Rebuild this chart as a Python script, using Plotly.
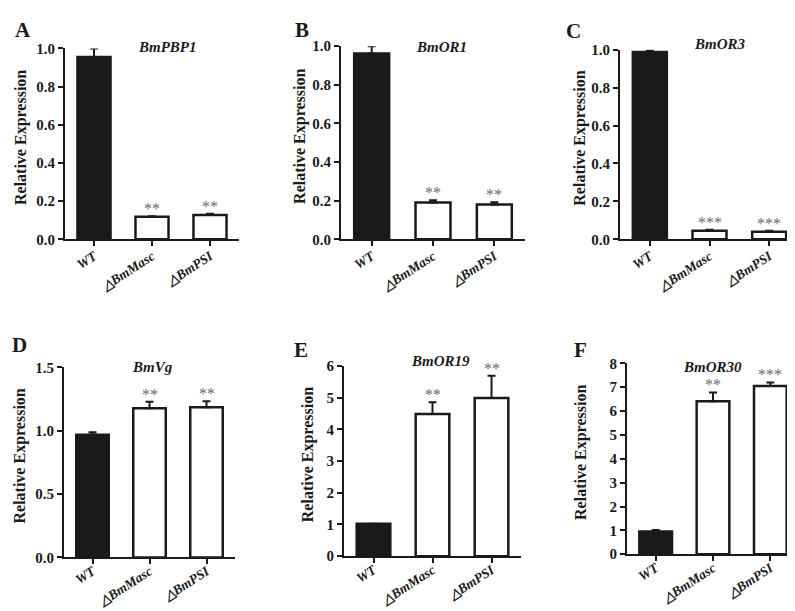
import plotly.graph_objects as go

W, H = 795, 611
categories = ["WT", "△BmMasc", "△BmPSI"]

genes = ["BmPBP1", "BmOR1", "BmOR3", "BmVg", "BmOR19", "BmOR30"]
panel_letters = ["A", "B", "C", "D", "E", "F"]

pbp1_vals = [0.955, 0.118, 0.127]
pbp1_err = [0.045, 0.003, 0.007]
pbp1_sig = ["", "**", "**"]

or1_vals = [0.962, 0.190, 0.180]
or1_err = [0.038, 0.012, 0.012]
or1_sig = ["", "**", "**"]

or3_vals = [0.988, 0.045, 0.040]
or3_err = [0.010, 0.005, 0.005]
or3_sig = ["", "***", "***"]

vg_vals = [0.967, 1.177, 1.185]
vg_err = [0.020, 0.050, 0.047]
vg_sig = ["", "**", "**"]

or19_vals = [1.02, 4.48, 4.99]
or19_err = [0.00, 0.37, 0.70]
or19_sig = ["", "**", "**"]

or30_vals = [0.95, 6.41, 7.05]
or30_err = [0.07, 0.37, 0.15]
or30_sig = ["", "**", "***"]

y_max = [1.0, 1.0, 1.0, 1.5, 6, 8]
y_dtick = [0.2, 0.2, 0.2, 0.5, 1, 1]
y_fmt = [".1f", ".1f", ".1f", ".1f", "d", "d"]

# layout geometry (pixels): x0, x1, ytop, ybottom
boxes = [
    (57, 231, 33.3, 229.3),
    (333, 517, 31, 229.3),
    (612, 791, 34.7, 229.3),
    (56, 227, 360.7, 556),
    (336, 513, 359.3, 554.7),
    (619, 791, 356.7, 552.7),
]
title_pos = [(159, 31.5), (433, 31.5), (712, 29), (144, 360), (432, 354), (704, 360)]
letter_pos = [(15, 14), (294, 14), (565, 15), (11, 338), (293, 343), (572, 343)]
ytitle_x = [13, 292, 572, 12, 300, 573]
label_standoff = [-3, -3, -3, -6, -6, -6]

data = [
    (pbp1_vals, pbp1_err, pbp1_sig),
    (or1_vals, or1_err, or1_sig),
    (or3_vals, or3_err, or3_sig),
    (vg_vals, vg_err, vg_sig),
    (or19_vals, or19_err, or19_sig),
    (or30_vals, or30_err, or30_sig),
]

FONT = "Liberation Serif"
INK = "#1a1a1a"
fig = go.Figure()
annotations = []
layout = {}

for i, ((vals, errs, sigs), box) in enumerate(zip(data, boxes)):
    n = i + 1
    xa = "x" if n == 1 else f"x{n}"
    ya = "y" if n == 1 else f"y{n}"
    fig.add_trace(go.Bar(
        x=categories, y=vals, xaxis=xa, yaxis=ya,
        width=0.57,
        marker=dict(color=[INK, "white", "white"],
                    line=dict(color=INK, width=2.5)),
        error_y=dict(type="data", symmetric=False, array=errs,
                     arrayminus=[0, 0, 0], color=INK,
                     thickness=2, width=4),
        cliponaxis=False, showlegend=False,
    ))
    x0, x1, yt, yb = box
    layout[f"xaxis{n if n > 1 else ''}"] = dict(
        domain=[x0 / W, x1 / W], anchor=ya, range=[-0.5, 2.5],
        showline=True, linecolor=INK, linewidth=2,
        ticks="outside", ticklen=5, tickwidth=2, tickcolor=INK,
        tickangle=-33, showgrid=False, zeroline=False,
        ticklabelstandoff=label_standoff[i],
        tickfont=dict(family=FONT, size=13.5, color=INK,
                      weight="bold", style="italic"),
    )
    layout[f"yaxis{n if n > 1 else ''}"] = dict(
        domain=[1 - yb / H, 1 - yt / H], anchor=xa, range=[0, y_max[i]],
        dtick=y_dtick[i], tickformat=y_fmt[i],
        showline=True, linecolor=INK, linewidth=2,
        ticks="outside", ticklen=5, tickwidth=2, tickcolor=INK,
        showgrid=False, zeroline=False,
        tickfont=dict(family=FONT, size=15, color=INK, weight="bold"),
    )
    for c, v, e, s in zip(categories, vals, errs, sigs):
        if s:
            annotations.append(dict(
                x=c, y=v + e, xref=xa, yref=ya, text=s, showarrow=False,
                yanchor="bottom", yshift=-3,
                font=dict(family=FONT, size=16, color="#6a6a6a"),
            ))
    tx, ty = title_pos[i]
    annotations.append(dict(
        x=tx / W, y=1 - ty / H, xref="paper", yref="paper",
        text=f"<b><i>{genes[i]}</i></b>", showarrow=False,
        xanchor="center", yanchor="middle",
        font=dict(family=FONT, size=15, color=INK),
    ))
    lx, ly = letter_pos[i]
    annotations.append(dict(
        x=lx / W, y=1 - ly / H, xref="paper", yref="paper",
        text=f"<b>{panel_letters[i]}</b>", showarrow=False,
        xanchor="center", yanchor="middle",
        font=dict(family=FONT, size=21, color=INK),
    ))
    annotations.append(dict(
        x=ytitle_x[i] / W, y=1 - ((yt + yb) / 2 - 6) / H, xref="paper", yref="paper",
        text="<b>Relative Expression</b>", showarrow=False, textangle=-90,
        xanchor="center", yanchor="middle",
        font=dict(family=FONT, size=16, color=INK),
    ))

fig.update_layout(
    width=W, height=H, margin=dict(l=0, r=0, t=0, b=0),
    paper_bgcolor="white", plot_bgcolor="white",
    annotations=annotations, **layout,
)
fig.write_html("out.html")
